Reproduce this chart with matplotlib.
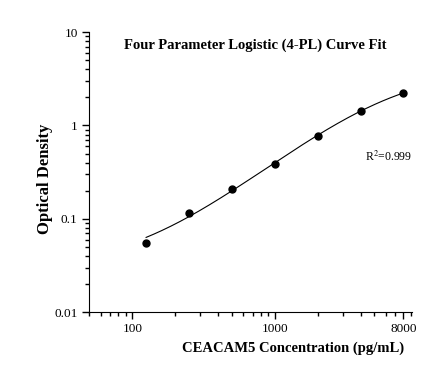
import numpy as np
import matplotlib.pyplot as plt
from matplotlib.ticker import LogLocator, NullFormatter, FixedLocator, FixedFormatter

conc = np.array([125, 250, 500, 1000, 2000, 4000, 8000])
od = np.array([0.055, 0.115, 0.21, 0.39, 0.77, 1.43, 2.22])

# 4-PL least squares fit (linear OD scale) by brute-force grid search
A, D, B, LC = np.meshgrid(np.linspace(0.0, 0.06, 13), np.linspace(2.5, 12, 39),
                          np.linspace(0.6, 1.4, 41), np.linspace(3.0, 4.6, 65),
                          indexing='ij')
lx = np.log10(conc)
err = 0
for xi, yi in zip(lx, od):
    f = D + (A - D) / (1 + 10 ** (B * (xi - LC)))
    err = err + (f - yi) ** 2
i = np.unravel_index(np.argmin(err), err.shape)
a, d, b, lc = A[i], D[i], B[i], LC[i]
xs = np.logspace(np.log10(125), np.log10(8000), 200)
ys = d + (a - d) / (1 + 10 ** (b * (np.log10(xs) - lc)))

plt.rcParams['font.family'] = 'Liberation Serif'
plt.rcParams['mathtext.fontset'] = 'stix'
fig = plt.figure(figsize=(4.44, 3.69), dpi=100)
ax = fig.add_axes([0.2, 0.154, 0.728, 0.759])

ax.plot(xs, ys, color='black', linewidth=0.8)
ax.plot(conc, od, 'o', color='black', markersize=5)

ax.set_xscale('log')
ax.set_yscale('log')
ax.set_xlim(49.5, 9200)
ax.set_ylim(0.01, 10)

ax.xaxis.set_major_locator(FixedLocator([100, 1000, 8000]))
ax.xaxis.set_major_formatter(FixedFormatter(['100', '1000', '8000']))
ax.xaxis.set_minor_locator(LogLocator(base=10, subs=np.arange(2, 10)))
ax.xaxis.set_minor_formatter(NullFormatter())
ax.yaxis.set_major_locator(FixedLocator([0.01, 0.1, 1, 10]))
ax.yaxis.set_major_formatter(FixedFormatter(['0.01', '0.1', '1', '10']))
ax.yaxis.set_minor_locator(LogLocator(base=10, subs=np.arange(2, 10)))
ax.yaxis.set_minor_formatter(NullFormatter())

ax.spines['top'].set_visible(False)
ax.spines['right'].set_visible(False)
ax.tick_params(which='major', length=5, width=1, labelsize=9.5, pad=3)
ax.tick_params(which='minor', length=3, width=1)

fig.text(0.66, 0.057, 'CEACAM5 Concentration (pg/mL)', fontsize=10.5,
         fontweight='bold', ha='center', va='center')
fig.text(0.102, 0.515, 'Optical Density', fontsize=12, fontweight='bold',
         rotation=90, ha='center', va='center')
fig.text(0.575, 0.878, 'Four Parameter Logistic (4-PL) Curve Fit', fontsize=10.5,
         fontweight='bold', ha='center', va='center')
ax.text(0.855, 0.54, r'R$^2$=0.999', transform=ax.transAxes, fontsize=8.5)

fig.savefig('out.png', dpi=100)
